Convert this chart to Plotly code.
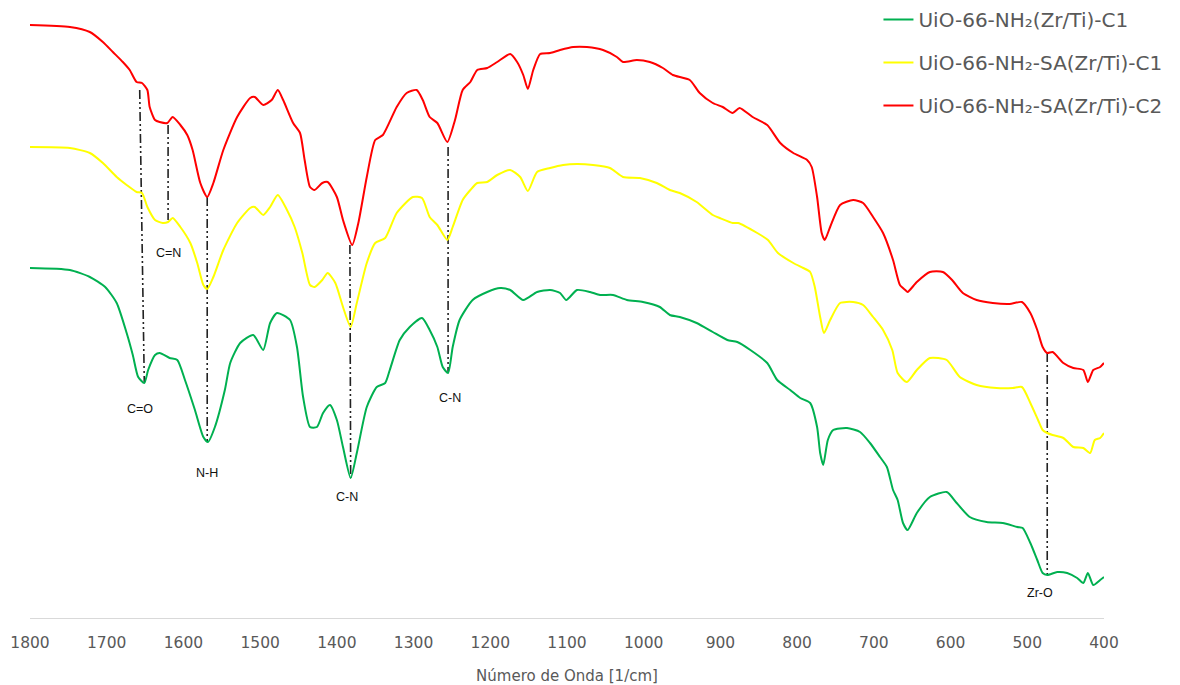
import plotly.graph_objects as go

# ---------------- data (wavenumber in cm^-1, intensity in arbitrary units, offset curves) ----------------
green_wn = [1800, 1748, 1722, 1702, 1687, 1674, 1666, 1659, 1651, 1646, 1637, 1631, 1618, 1608, 1598, 1585,
            1574, 1568, 1559, 1546, 1539, 1526, 1509, 1496, 1487, 1478, 1461, 1452, 1444, 1435, 1426, 1418,
            1409, 1400, 1392, 1382, 1374, 1361, 1348, 1337, 1331, 1318, 1305, 1289, 1279, 1269, 1262, 1255,
            1249, 1240, 1223, 1204, 1187, 1174, 1157, 1139, 1122, 1109, 1101, 1087, 1070, 1057, 1040, 1022,
            1001, 979, 966, 953, 931, 910, 891, 878, 861, 839, 826, 809, 796, 783, 774, 770, 766, 760, 753,
            735, 718, 705, 692, 683, 675, 669, 662, 656, 644, 627, 605, 592, 575, 553, 532, 513, 506, 496,
            487, 480, 474, 461, 448, 435, 427, 421, 414, 405, 400]
green_val = [350, 348, 341, 331, 315, 285, 263, 241, 235, 248, 263, 265, 260, 258, 238, 208,
             181, 176, 191, 228, 255, 275, 283, 268, 295, 305, 298, 271, 221, 191, 191, 205,
             213, 198, 171, 140, 165, 211, 231, 235, 248, 278, 291, 300, 288, 271, 251, 245,
             271, 298, 318, 326, 330, 328, 318, 326, 328, 325, 318, 328, 326, 323, 323, 318,
             316, 311, 303, 301, 295, 286, 278, 276, 268, 255, 238, 228, 220, 215, 191, 165, 153, 178, 188,
             190, 186, 175, 161, 151, 128, 118, 95, 88, 105, 121, 126, 115, 101, 96, 95, 91, 90, 75,
             58, 45, 43, 46, 45, 40, 35, 45, 33, 38, 41]

yellow_wn = [1800, 1748, 1722, 1705, 1687, 1674, 1661, 1654, 1647, 1637, 1627, 1620, 1614, 1604, 1591, 1582,
             1574, 1569, 1561, 1548, 1530, 1513, 1507, 1496, 1487, 1477, 1465, 1455, 1445, 1435, 1429, 1419,
             1412, 1402, 1392, 1382, 1374, 1361, 1350, 1337, 1322, 1301, 1289, 1279, 1269, 1256, 1249, 1236,
             1226, 1217, 1204, 1191, 1174, 1161, 1151, 1139, 1122, 1105, 1087, 1066, 1044, 1027, 1005, 983,
             966, 953, 931, 910, 901, 884, 877, 852, 838, 825, 805, 792, 783, 777, 770, 765, 757, 744, 727,
             714, 701, 688, 676, 669, 657, 644, 627, 605, 588, 566, 540, 519, 507, 496, 486, 480, 474, 467,
             453, 440, 427, 418, 412, 405, 400]
yellow_val = [471, 470, 465, 455, 441, 433, 426, 425, 411, 398, 395, 396, 400, 391, 375, 355,
              333, 329, 341, 368, 395, 410, 411, 403, 411, 423, 408, 391, 365, 333, 331, 338,
              345, 335, 311, 291, 315, 355, 375, 380, 405, 421, 420, 401, 393, 378, 391, 418,
              428, 435, 436, 443, 448, 441, 427, 446, 450, 453, 454, 453, 450, 441, 440, 435,
              428, 425, 416, 403, 400, 395, 395, 385, 378, 365, 355, 350, 346, 331, 301, 285, 298, 315, 316,
              313, 301, 288, 268, 245, 236, 248, 260, 258, 241, 233, 230, 230, 231, 215, 198, 188, 185, 183,
              180, 171, 170, 165, 178, 180, 185]

red_wn = [1800, 1748, 1722, 1705, 1692, 1679, 1670, 1661, 1654, 1647, 1644, 1637, 1631, 1621, 1614, 1604,
          1595, 1588, 1578, 1569, 1561, 1548, 1530, 1513, 1507, 1496, 1485, 1477, 1470, 1457, 1448, 1442,
          1435, 1429, 1419, 1412, 1400, 1392, 1380, 1372, 1361, 1350, 1340, 1322, 1309, 1296, 1288, 1279,
          1269, 1256, 1246, 1236, 1226, 1217, 1204, 1191, 1174, 1165, 1157, 1151, 1144, 1135, 1122, 1109,
          1092, 1074, 1053, 1035, 1027, 1009, 992, 975, 962, 940, 927, 910, 897, 884, 875, 858, 839, 822,
          805, 787, 781, 774, 768, 764, 757, 744, 727, 714, 701, 688, 675, 666, 659, 656, 644, 627, 610,
          598, 584, 566, 545, 523, 507, 496, 487, 480, 474, 467, 453, 440, 427, 421, 414, 405, 400]
red_val = [593, 591, 586, 576, 566, 556, 548, 536, 535, 528, 511, 498, 496, 495, 501, 493,
           483, 468, 435, 421, 435, 468, 501, 520, 521, 513, 518, 528, 518, 495, 485, 458,
           431, 428, 435, 436, 421, 398, 373, 395, 441, 478, 483, 511, 525, 528, 518, 501,
           495, 476, 498, 528, 536, 548, 550, 556, 564, 556, 543, 529, 548, 564, 565, 568,
           571, 571, 568, 561, 556, 558, 556, 550, 543, 538, 525, 515, 511, 505, 510, 501, 493, 475,
           465, 458, 451, 421, 385, 378, 391, 413, 418, 415, 401, 385, 358, 333, 328, 326, 336, 346, 346,
           338, 325, 318, 315, 314, 316, 305, 288, 271, 265, 266, 255, 250, 248, 236, 248, 251, 255]

series_names = ["UiO-66-NH₂(Zr/Ti)-C1", "UiO-66-NH₂-SA(Zr/Ti)-C1", "UiO-66-NH₂-SA(Zr/Ti)-C2"]
series_colors = ["#00B050", "#FFFF00", "#FF0000"]

# band assignment guide lines (top x, bottom x, top value, bottom value) and labels
band_labels = ["C=O", "C=N", "N-H", "C-N", "C-N", "Zr-O"]
band_wn_top = [1657, 1620, 1569, 1383, 1255, 474]
band_wn_bot = [1651, 1620, 1569, 1382, 1255, 474]
band_val_top = [528, 493, 421, 373, 471, 265]
band_val_bot = [235, 398, 176, 140, 245, 43]
label_wn = [1657, 1620, 1569, 1387, 1253, 483]
label_val = [209, 365, 145, 121, 220, 25]

x_ticks = list(range(1800, 399, -100))

# ---------------- figure ----------------
fig = go.Figure()

for i in range(len(band_labels)):
    fig.add_trace(go.Scatter(
        x=[band_wn_top[i], band_wn_bot[i]], y=[band_val_top[i], band_val_bot[i]],
        mode="lines", line=dict(color="#222222", width=1.6, dash="9px,3px,2px,3px,2px,3px"),
        showlegend=False, hoverinfo="skip"))

for wn, val, name, col in zip([green_wn, yellow_wn, red_wn], [green_val, yellow_val, red_val],
                              series_names, series_colors):
    fig.add_trace(go.Scatter(x=wn, y=val, mode="lines", name=name, legendgroup=name,
                             line=dict(color=col, width=2, shape="spline", smoothing=0.6)))

for lab, xw, yv in zip(band_labels, label_wn, label_val):
    fig.add_annotation(x=xw, y=yv, text=lab, showarrow=False,
                       font=dict(family="Liberation Sans, Arial", size=12.5, color="#111111"))

fig.update_layout(
    width=1180, height=685,
    margin=dict(l=30, r=76, t=0, b=67),
    paper_bgcolor="white", plot_bgcolor="white",
    font=dict(family="DejaVu Sans", color="#595959"),
    legend=dict(x=0.79, y=1.0, xanchor="left", yanchor="top", bgcolor="rgba(0,0,0,0)",
                font=dict(family="DejaVu Sans", size=20, color="#595959"),
                tracegroupgap=14, traceorder="grouped"),
    showlegend=True,
)
fig.update_xaxes(range=[1800, 400], tickvals=x_ticks, ticktext=[str(t) for t in x_ticks],
                 showline=True, linecolor="#d9d9d9", linewidth=1.3, showgrid=False, zeroline=False,
                 ticks="", tickfont=dict(family="DejaVu Sans", size=15.5, color="#595959"),
                 ticklabelstandoff=10,
                 title=dict(text="Número de Onda [1/cm]",
                            font=dict(family="DejaVu Sans", size=15, color="#595959"), standoff=19))
fig.update_yaxes(range=[0, 618], visible=False, showgrid=False, zeroline=False)

fig.write_html("out.html")
